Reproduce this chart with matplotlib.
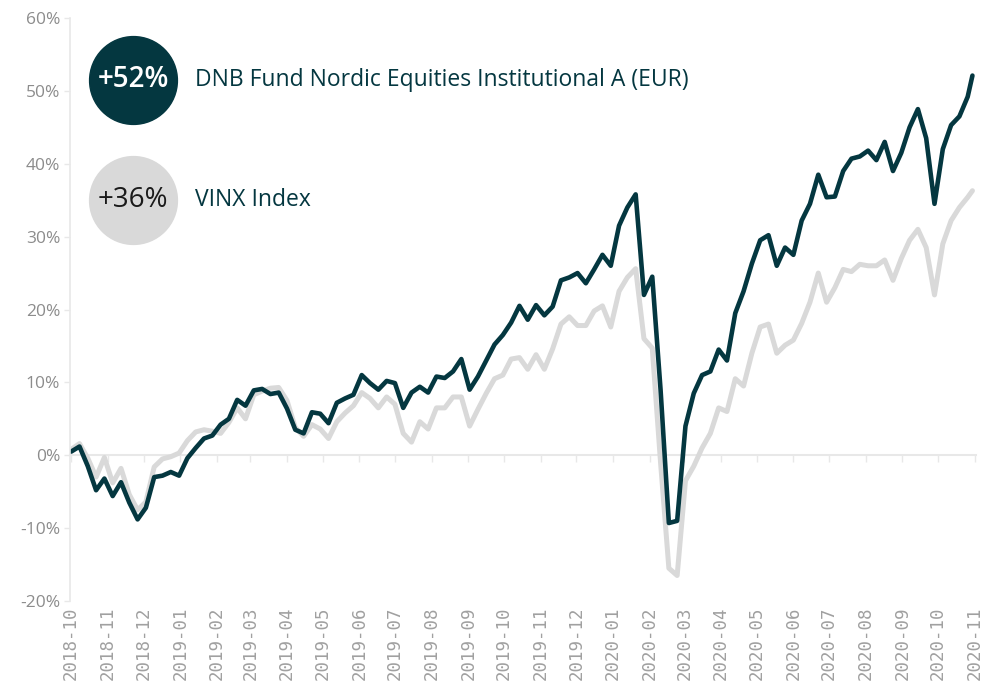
import matplotlib
matplotlib.use("Agg")
import matplotlib.pyplot as plt
import matplotlib.dates as mdates
from matplotlib.ticker import FuncFormatter, MultipleLocator
import pandas as pd

# weekly readings (% total return since start) + last day
dates = list(pd.date_range('2018-10-01', '2020-10-26', freq='W-MON')) + [pd.Timestamp('2020-10-30')]

fund = [0.5, 1.2, -1.5, -4.8, -3.2, -5.6, -3.7, -6.5, -8.8, -7.2,
        -3.0, -2.8, -2.3, -2.8, -0.4, 1.0, 2.3, 2.7, 4.2, 5.0,
        7.6, 6.8, 8.9, 9.1, 8.4, 8.6, 6.4, 3.5, 3.0, 5.9,
        5.7, 4.4, 7.2, 7.8, 8.3, 11.0, 9.9, 9.0, 10.2, 9.9,
        6.5, 8.6, 9.4, 8.6, 10.8, 10.6, 11.5, 13.2, 9.0, 10.8,
        13.0, 15.2, 16.5, 18.2, 20.5, 18.6, 20.6, 19.2, 20.4, 24.0,
        24.4, 25.0, 23.6, 25.5, 27.5, 26.0, 31.5, 34.0, 35.8, 22.0,
        24.5, 9.0, -9.3, -9.0, 4.0, 8.5, 11.0, 11.5, 14.5, 13.0,
        19.5, 22.5, 26.3, 29.5, 30.2, 26.0, 28.5, 27.5, 32.2, 34.5,
        38.5, 35.4, 35.5, 39.0, 40.7, 41.0, 41.8, 40.5, 43.0, 39.0,
        41.5, 45.0, 47.5, 43.5, 34.5, 42.0, 45.3, 46.5, 49.2, 52.1]

vinx = [0.8, 1.6, -0.4, -3.0, -0.3, -3.8, -1.8, -5.4, -7.5, -6.4,
        -1.6, -0.5, -0.2, 0.3, 2.0, 3.2, 3.5, 3.3, 3.0, 4.5,
        6.5, 5.0, 8.3, 8.8, 9.2, 9.3, 7.5, 3.8, 2.6, 4.2,
        3.6, 2.3, 4.6, 5.8, 6.8, 8.6, 7.8, 6.5, 8.0, 7.0,
        3.0, 1.8, 4.6, 3.6, 6.5, 6.5, 8.0, 8.0, 4.0, 6.3,
        8.5, 10.5, 11.0, 13.2, 13.4, 11.8, 13.8, 11.8, 14.6, 18.0,
        19.0, 17.8, 17.8, 19.8, 20.5, 17.6, 22.5, 24.4, 25.6, 16.0,
        14.7, -1.0, -15.5, -16.5, -3.5, -1.5, 1.0, 3.0, 6.5, 6.0,
        10.5, 9.5, 14.0, 17.6, 18.0, 14.0, 15.1, 15.8, 18.1, 21.0,
        25.0, 21.0, 23.0, 25.5, 25.2, 26.2, 26.0, 26.0, 26.8, 24.0,
        27.0, 29.5, 31.0, 28.5, 22.0, 29.0, 32.2, 34.0, 35.4, 36.3]

fund_name = 'DNB Fund Nordic Equities Institutional A (EUR)'
vinx_name = 'VINX Index'
fund_label = '+52%'
vinx_label = '+36%'

dark = '#043740'
grey = '#d9d9d9'
axis_grey = '#e8e8e8'

plt.rcParams['font.family'] = ['Open Sans', 'DejaVu Sans']

fig = plt.figure(figsize=(9.86, 6.84), dpi=100)
ax = fig.add_axes([70/986, 1-601/684, 906/986, 583/684])

ax.plot(dates, vinx, color=grey, lw=3.6, solid_joinstyle='round', solid_capstyle='round')
ax.plot(dates, fund, color=dark, lw=3.3, solid_joinstyle='round', solid_capstyle='round')

ax.set_ylim(-20, 60)
ax.set_xlim(pd.Timestamp('2018-09-30'), pd.Timestamp('2020-11-02'))
ax.yaxis.set_major_locator(MultipleLocator(10))
ax.yaxis.set_major_formatter(FuncFormatter(lambda v, p: '%d%%' % v))
ax.tick_params(axis='y', colors=axis_grey, length=4, width=1, labelcolor='#8c8c8c',
               labelsize=12.5, pad=3)

months = mdates.MonthLocator()
ax.xaxis.set_major_locator(months)
ax.xaxis.set_major_formatter(mdates.DateFormatter('%Y-%m'))
ax.tick_params(axis='x', length=0, labelcolor='#a0a0a0', pad=4)
for lab in ax.get_xticklabels():
    lab.set_rotation(90)
    lab.set_family('DejaVu Sans Mono')
    lab.set_fontsize(12.5)

for s in ['top', 'right', 'bottom']:
    ax.spines[s].set_visible(False)
ax.spines['left'].set_color(axis_grey)
ax.spines['left'].set_linewidth(1.2)

# zero line with month ticks
zero = ax.secondary_xaxis(0.25)
zero.xaxis.set_major_locator(mdates.MonthLocator())
zero.tick_params(axis='x', colors=axis_grey, length=5, width=1, labelbottom=False)
zero.spines['bottom'].set_color(axis_grey)
zero.spines['bottom'].set_linewidth(1.5)

# legend bubbles
ax.scatter([0.0695], [0.8937], s=4000, color=dark, transform=ax.transAxes, clip_on=False, zorder=5)
ax.scatter([0.0695], [0.6878], s=4000, color=grey, transform=ax.transAxes, clip_on=False, zorder=5)
ax.text(0.0695, 0.8937, fund_label, transform=ax.transAxes, ha='center', va='center',
        color='white', fontsize=20, fontweight='semibold', zorder=6)
ax.text(0.0695, 0.6878, vinx_label, transform=ax.transAxes, ha='center', va='center',
        color='#1a1a1a', fontsize=20, zorder=6)
ax.text((195-70)/906, 0.8937, fund_name, transform=ax.transAxes, ha='left', va='center',
        color=dark, fontsize=16.5)
ax.text((195-70)/906, 0.6878, vinx_name, transform=ax.transAxes, ha='left', va='center',
        color=dark, fontsize=16.5)

fig.savefig('out.png', dpi=100)
